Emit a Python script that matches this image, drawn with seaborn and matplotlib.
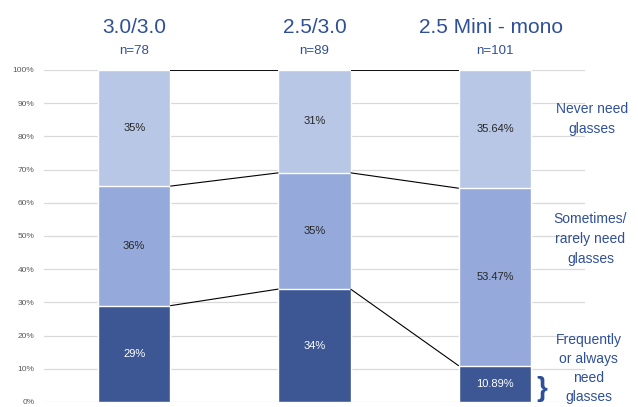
import matplotlib
matplotlib.use("Agg")
import matplotlib.pyplot as plt
import numpy as np
import pandas as pd
import seaborn as sns

# Data
groups = ["3.0/3.0", "2.5/3.0", "2.5 Mini - mono"]
n_labels = ["n=78", "n=89", "n=101"]
frequent = [29, 34, 10.89]
sometimes = [36, 35, 53.47]
never = [35, 31, 35.64]
frequent_txt = ["29%", "34%", "10.89%"]
sometimes_txt = ["36%", "35%", "53.47%"]
never_txt = ["35%", "31%", "35.64%"]
segment_names = ["Never need\nglasses", "Sometimes/\nrarely need\nglasses",
                 "Frequently\nor always\nneed\nglasses"]

c_light = "#B8C7E6"
c_mid = "#95A9DA"
c_dark = "#3C5794"
c_text = "#2F4F99"

sns.set_theme(style="white")
plt.rcParams["font.family"] = ["Liberation Sans", "DejaVu Sans"]

df = pd.DataFrame({"group": groups, "frequent": frequent,
                   "sometimes": sometimes, "never": never})
df["low"] = df["frequent"]
df["mid"] = df["frequent"] + df["sometimes"]
df["top"] = df["mid"] + df["never"]

fig = plt.figure(figsize=(6.38, 4.07), dpi=100)
ax = fig.add_axes([0.069, 0.0123, 0.848, 0.816])

# stacked bars: draw cumulative heights from the tallest down
for col, color in [("top", c_light), ("mid", c_mid), ("low", c_dark)]:
    sns.barplot(data=df, x="group", y=col, color=color, width=0.4,
                saturation=1, ax=ax, zorder=3)

# connector lines between bars
for i in range(len(groups) - 1):
    for col, lw in [("low", 0.8), ("mid", 0.8), ("top", 1.3)]:
        ax.plot([i + 0.2, i + 0.8], [df[col][i], df[col][i + 1]],
                color="black", lw=lw, zorder=4, solid_capstyle="butt")

# segment labels and headers
for i in range(len(groups)):
    ax.text(i, df["low"][i] / 2, frequent_txt[i], ha="center", va="center",
            color="white", fontsize=8, zorder=5)
    ax.text(i, (df["low"][i] + df["mid"][i]) / 2, sometimes_txt[i],
            ha="center", va="center", color="#262626", fontsize=8, zorder=5)
    ax.text(i, (df["mid"][i] + df["top"][i]) / 2, never_txt[i],
            ha="center", va="center", color="#262626", fontsize=8, zorder=5)
    ax.text(i - 0.02 * (i == 2), 112.8, groups[i], ha="center", va="center",
            color=c_text, fontsize=15, clip_on=False)
    ax.text(i, 105.6, n_labels[i], ha="center", va="center", color=c_text,
            fontsize=9.5, clip_on=False)

# right-hand segment names
ax.text(2.54, 85.2, segment_names[0], ha="center", va="center", color=c_text,
        fontsize=10, clip_on=False, linespacing=1.55)
ax.text(2.53, 49, segment_names[1], ha="center", va="center", color=c_text,
        fontsize=10, clip_on=False, linespacing=1.55)
ax.text(2.52, 10.2, segment_names[2], ha="center", va="center", color=c_text,
        fontsize=10, clip_on=False, linespacing=1.45)
ax.text(2.26, 3.8, "}", ha="center", va="center", color=c_text,
        fontsize=20, fontweight="bold", clip_on=False)

ax.set_xlim(-0.5, 2.5)
ax.set_ylim(0, 100)
ax.set_yticks(np.arange(0, 101, 10))
ax.set_yticklabels([f"{v}%" for v in range(0, 101, 10)], fontsize=6,
                   color="#595959")
ax.set_xticks([])
ax.set_xlabel("")
ax.set_ylabel("")
ax.tick_params(axis="y", length=0, pad=7)
ax.grid(axis="y", color="#D9D9D9", lw=0.9, zorder=0)
for s in ax.spines.values():
    s.set_visible(False)

fig.savefig("out.png", dpi=100)
